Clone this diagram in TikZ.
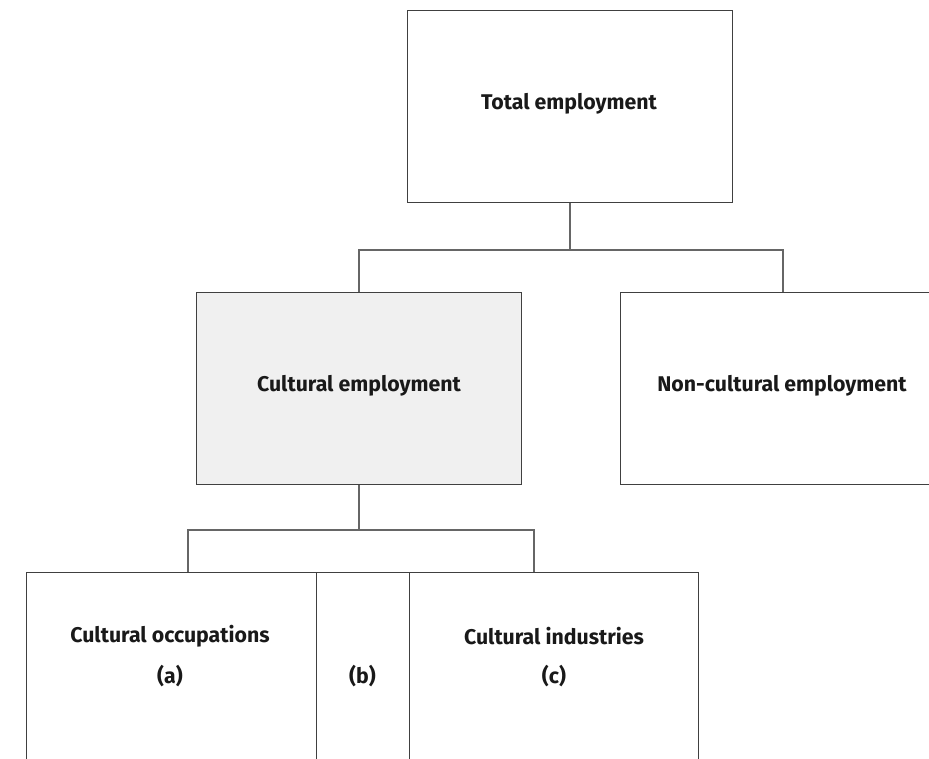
\documentclass[tikz,border=0pt]{standalone}
\usepackage{fontspec}
\setmainfont{Fira Sans}
\begin{document}
\begin{tikzpicture}[x=1pt,y=-1pt,
  box/.style={draw=black!75, line width=1pt, rectangle, inner sep=0pt, anchor=north west},
  lbl/.style={font=\fontseries{sb}\fontsize{21.3}{24}\selectfont, text=black!90, inner sep=0pt},
  link/.style={draw=black!60, line width=1.1pt}]
\useasboundingbox (0,0) rectangle (929,758);
\clip (0,0) rectangle (929,758);
% hierarchy boxes
\node[box, minimum width=325pt, minimum height=192pt] (total) at (407,10) {};
\node[box, minimum width=325pt, minimum height=192pt, fill=black!6] (cult) at (196,292) {};
\node[box, minimum width=325pt, minimum height=192pt] (noncult) at (620,292) {};
\node[box, minimum width=290pt, minimum height=220pt] (occ) at (26,572) {};
\node[box, minimum width=93pt, minimum height=220pt] (both) at (316,572) {};
\node[box, minimum width=289pt, minimum height=220pt] (ind) at (409,572) {};
% labels
\node[lbl] (totalT) at (569,104) {Total employment};
\node[lbl] (cultT) at (359,386) {Cultural employment};
\node[lbl] (noncultT) at (782,386) {Non-cultural employment};
\node[lbl] (occT) at (170,636) {Cultural occupations};
\node[lbl] (occA) at (170,676) {(a)};
\node[lbl] (bothB) at (362.5,676) {(b)};
\node[lbl] (indT) at (554,636) {Cultural industries};
\node[lbl] (indC) at (554,676) {(c)};
% connectors
\coordinate (j1) at (total.south |- 0,250);
\coordinate (j2) at (cult.south |- 0,530);
\coordinate (f1) at (188,572);
\coordinate (f2) at (534,572);
\draw[link] (total.south) -- (j1);
\draw[link] (cult.north) |- (j1) -| (noncult.north);
\draw[link] (cult.south) -- (j2);
\draw[link] (f1) |- (j2) -| (f2);
\end{tikzpicture}
\end{document}
